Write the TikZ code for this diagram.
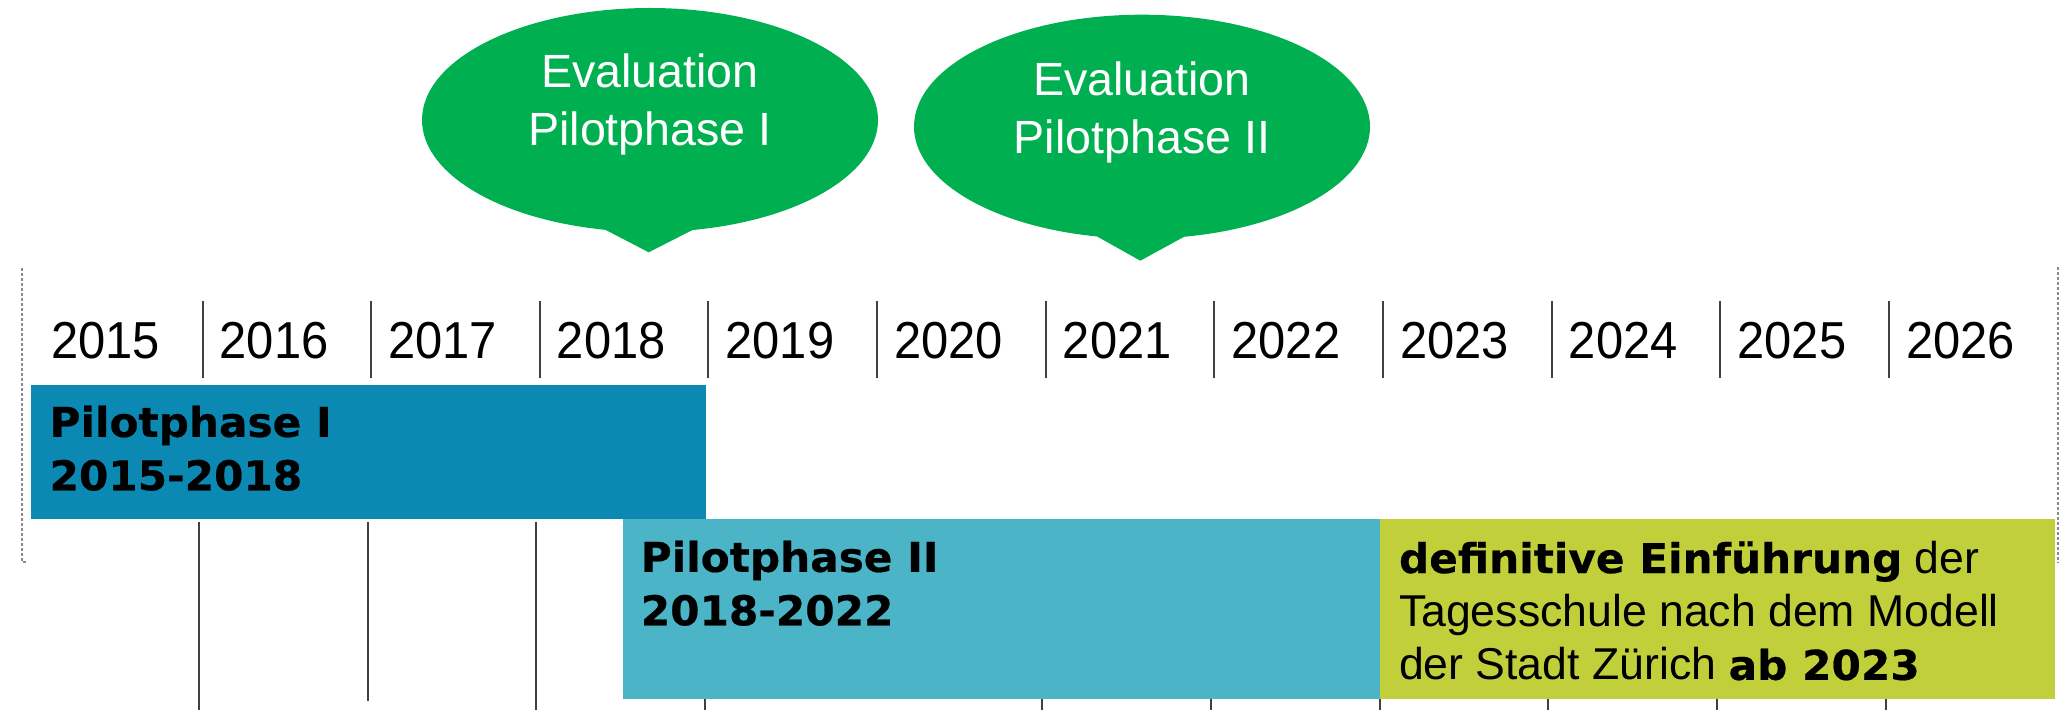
\documentclass[tikz,border=0pt]{standalone}
\usepackage{fontspec}
\setmainfont{Liberation Sans}
\newfontfamily\yearfont{Liberation Sans}[FakeStretch=0.94]
\newfontfamily\heavyfont{DejaVu Sans}[FakeStretch=1.03,BoldFeatures={FakeBold=0.5}]
\usetikzlibrary{positioning,shapes.callouts}
\definecolor{phaseone}{RGB}{11,137,178}
\definecolor{phasetwo}{RGB}{75,180,198}
\definecolor{finalgreen}{RGB}{192,207,58}
\definecolor{evalgreen}{RGB}{0,176,80}
\tikzstyle{timeline}=[
    x=0.5pt,y=-0.5pt,
    every node/.style={
        inner sep=0pt, outer sep=0pt,
    },
]
\tikzstyle{year}=[anchor=base west, font=\yearfont\fontsize{26pt}{30pt}\selectfont]
\tikzstyle{tick}=[draw=black!75, line width=1pt]
\tikzstyle{frame}=[draw=black!45, line width=0.8pt, dash pattern=on 1.5pt off 1pt]
\tikzstyle{phase box}=[rectangle, anchor=north west]
\tikzstyle{phase text}=[align=left, font=\fontsize{22.3pt}{26.7pt}\selectfont]
\tikzstyle{bubble}=[ellipse callout, fill=evalgreen, minimum width=228pt, minimum height=112pt, callout pointer arc=22]
\tikzstyle{bubble text}=[align=center, text=white, font=\fontsize{23.3pt}{29pt}\selectfont]
\newcommand{\heavy}[1]{{\heavyfont\bfseries\fontsize{20.5pt}{26.7pt}\selectfont #1}}

\begin{document}
\begin{tikzpicture}[timeline]
    \useasboundingbox (0,0) rectangle (2060,710);

    % years and ticks
    \foreach \yr [count=\k from 0] in {2015,...,2026}
        \node[year] (y\yr) at ({51+168.65*\k},359) {\yr};
    \foreach \k in {0,...,10}
        \draw[tick] ({202.5+168.65*\k},300.7) -- ++(0,77.3);
    \foreach \k in {0,2,3,5,6,7,8,9,10}
        \draw[tick] ({199+168.65*\k},521.7) -- ({199+168.65*\k},710);
    \draw[tick] (367.6,521.7) -- (367.6,700.7);

    \draw[frame] (22,268) -- (22,562) -- (28,562);
    \draw[frame] (2058,267) -- (2058,563);

    % phases
    \node[phase box, fill=phaseone, minimum width=337.5pt, minimum height=67.25pt] (p1) at (31,385) {};
    \node[phase box, fill=phasetwo, minimum width=378.75pt, minimum height=89.75pt] (p2) at (622.5,519.5) {};
    \node[phase box, fill=finalgreen, minimum width=337.5pt, minimum height=89.75pt, right=0pt of p2] (p3) {};

    \node[phase text, below right=10.35pt and 9.3pt of p1.north west] (t1) {\heavy{Pilotphase I}\\\heavy{2015-2018}};
    \node[phase text, below right=10.6pt and 9.15pt of p2.north west] (t2) {\heavy{Pilotphase II}\\\heavy{2018-2022}};
    \node[phase text, below right=10.6pt and 9.5pt of p3.north west] (t3) {\heavy{definitive Einführung} der\\Tagesschule nach dem Modell\\der Stadt Zürich \heavy{ab 2023}};

    % evaluations
    \coordinate (tip1) at (648.7,252.3);
    \coordinate (tip2) at (1140.3,260.7);
    \node[bubble, callout absolute pointer=(tip1)] (ev1) at (650,120) {};
    \node[bubble, callout absolute pointer=(tip2)] (ev2) at (1142,126.7) {};
    \node[bubble text] (e1) at ([yshift=8pt]ev1.center) {Evaluation\\Pilotphase I};
    \node[bubble text] (e2) at ([yshift=7.3pt]ev2.center) {Evaluation\\Pilotphase II};
\end{tikzpicture}
\end{document}
